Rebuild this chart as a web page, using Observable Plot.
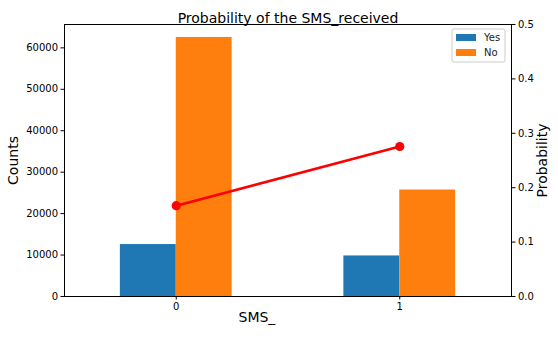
<!DOCTYPE html>
<html>
<head>
<meta charset="utf-8">
<script src="https://cdn.jsdelivr.net/npm/d3@7"></script>
<script src="https://cdn.jsdelivr.net/npm/@observablehq/plot@0.6"></script>
<style>
  body { margin: 0; background: #fff; }
  #chart svg { font-family: "DejaVu Sans", sans-serif; }
</style>
</head>
<body>
<div id="chart"></div>
<script>
// ---- data ----
const categories = [0, 1];
const categoryLabels = ["0", "1"];
const seriesNames = ["Yes", "No"];
const yesCounts = [12535, 9784];
const noCounts = [62510, 25698];
const probability = [0.1670, 0.2757];
const countTicks = [0, 10000, 20000, 30000, 40000, 50000, 60000];
const probTicks = [0.0, 0.1, 0.2, 0.3, 0.4, 0.5];
const seriesColors = ["#1f77b4", "#ff7f0e"];
const titleText = "Probability of the SMS_received";
const xLabelText = "SMS_";
const yLabelText = "Counts";
const y2LabelText = "Probability";

// ---- derived tables ----
const yMax = Math.max(...yesCounts, ...noCounts) * 1.05;
const pMax = 0.5;
const toCount = p => p / pMax * yMax;
const barWidth = 0.25;

const bars = categories.flatMap((c, i) => [
  {cat: c, series: "Yes", value: yesCounts[i], x1: c - barWidth, x2: c},
  {cat: c, series: "No", value: noCounts[i], x1: c, x2: c + barWidth}
]);
const points = categories.map((c, i) => ({cat: c, p: probability[i]}));

const plot = Plot.plot({
  width: 558,
  height: 338,
  marginLeft: 64,
  marginRight: 47,
  marginTop: 24,
  marginBottom: 42,
  style: {fontFamily: "DejaVu Sans, sans-serif", fontSize: "10px", color: "#000", background: "#fff"},
  x: {domain: [-0.5, 1.5]},
  y: {domain: [0, yMax]},
  color: {domain: seriesNames, range: seriesColors},
  marks: [
    Plot.rectY(bars, {x1: "x1", x2: "x2", y1: 0, y2: "value", fill: "series"}),
    Plot.lineY(points, {x: "cat", y: d => toCount(d.p), stroke: "#ff0000", strokeWidth: 2.6}),
    Plot.dot(points, {x: "cat", y: d => toCount(d.p), r: 4.6, fill: "#ff0000"}),
    Plot.frame({stroke: "#000", strokeWidth: 1}),
    Plot.axisX({ticks: categories, tickFormat: i => categoryLabels[i], tickSize: 3.5, tickPadding: 3, label: null, fontSize: 10}),
    Plot.axisY({anchor: "left", ticks: countTicks, tickFormat: d3.format("d"), tickSize: 3.5, tickPadding: 3, label: null, fontSize: 10}),
    Plot.axisY({anchor: "right", ticks: probTicks.map(toCount), tickFormat: v => (v / yMax * pMax).toFixed(1), tickSize: 3.5, tickPadding: 3, label: null, fontSize: 10}),
    Plot.text([titleText], {frameAnchor: "top", dy: -11, fontSize: 14, fill: "#000"}),
    Plot.text([yLabelText], {frameAnchor: "left", textAnchor: "middle", rotate: -90, dx: -50.5, fontSize: 14, fill: "#000"}),
    Plot.text([y2LabelText], {frameAnchor: "right", textAnchor: "middle", rotate: -90, dx: 31.5, fontSize: 14, fill: "#000"}),
    Plot.text([xLabelText], {frameAnchor: "bottom-left", dx: 174, dy: 25, textAnchor: "start", fontSize: 14, fill: "#000"})
  ]
});

// ---- legend (upper right, matplotlib style) ----
const svg = d3.select(plot);
const lg = svg.append("g").attr("transform", "translate(452,29)");
lg.append("rect").attr("x", 0).attr("y", 0).attr("width", 53).attr("height", 33)
  .attr("rx", 2).attr("fill", "#fff").attr("fill-opacity", 0.8)
  .attr("stroke", "#cccccc").attr("stroke-width", 1);
seriesNames.forEach((name, i) => {
  lg.append("rect").attr("x", 4).attr("y", 5 + i * 15).attr("width", 20).attr("height", 7)
    .attr("fill", seriesColors[i]);
  lg.append("text").attr("x", 32).attr("y", 8.5 + i * 15).attr("dy", "0.35em")
    .attr("text-anchor", "start")
    .attr("font-size", 10).attr("fill", "#222").text(name);
});

document.getElementById("chart").appendChild(plot);
</script>
</body>
</html>
